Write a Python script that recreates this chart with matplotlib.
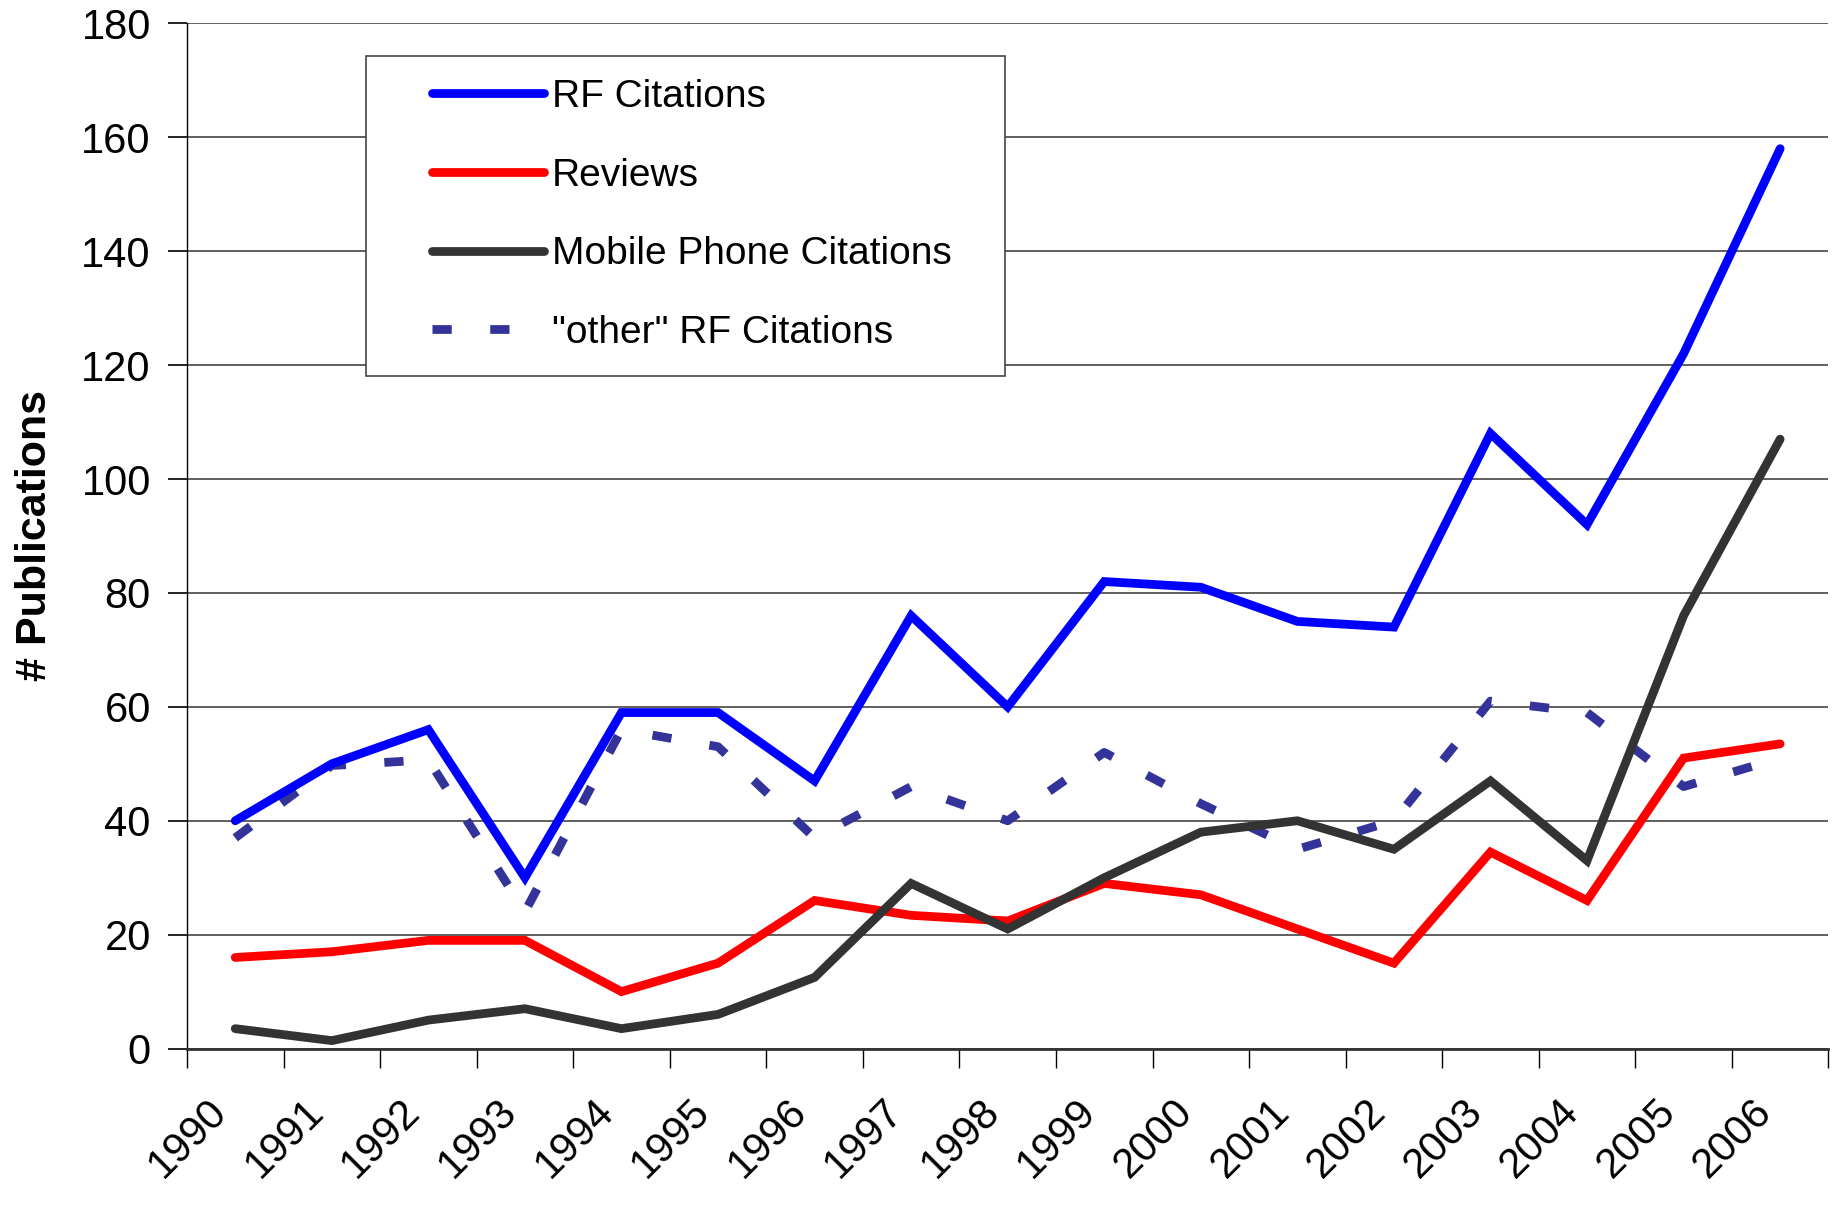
import matplotlib
matplotlib.use("Agg")
import matplotlib.pyplot as plt
from matplotlib.patches import Rectangle
import numpy as np

# ── Data ─────────────────────────────────────────────────────────────────────
years = [1990, 1991, 1992, 1993, 1994, 1995, 1996, 1997, 1998,
         1999, 2000, 2001, 2002, 2003, 2004, 2005, 2006]
rf_citations = [40, 50, 56, 30, 59, 59, 47, 76, 60,
                82, 81, 75, 74, 108, 92, 122, 158]
reviews = [16, 17, 19, 19, 10, 15, 26, 23.4, 22.4,
           29, 27, 21, 15, 34.5, 26, 51, 53.5]
mobile_citations = [3.5, 1.4, 5, 7, 3.5, 6, 12.5, 29, 21,
                    30, 38, 40, 35, 47, 33, 76, 107]
other_rf_citations = [37, 49.7, 50.7, 24, 56, 53, 37, 46, 40,
                      52, 43, 35, 40, 61, 59, 46, 51]

plt.rcParams["font.family"] = ["Liberation Sans", "DejaVu Sans"]

fig = plt.figure(figsize=(18.33, 12.05), dpi=100)
ax = fig.add_axes([0.102, 0.1298, 0.8955, 0.8508])

x = np.arange(len(years)) + 0.5
lw = 6.3
ax.plot(x, rf_citations, color="#0000FF", lw=lw, label="RF Citations",
        solid_capstyle="round", solid_joinstyle="miter", zorder=4)
ax.plot(x, reviews, color="#FF0000", lw=lw, label="Reviews",
        solid_capstyle="round", solid_joinstyle="miter", zorder=3)
ax.plot(x, mobile_citations, color="#333333", lw=lw, label="Mobile Phone Citations",
        solid_capstyle="round", solid_joinstyle="miter", zorder=3)
ax.plot(x, other_rf_citations, color="#333399", lw=lw, label='"other" RF Citations',
        linestyle=(0, (2.2, 4.4)), dash_capstyle="butt", zorder=2)

ax.set_xlim(0, len(years))
ax.set_ylim(0, 180)
ax.set_yticks(np.arange(0, 181, 20))
ax.yaxis.grid(True, color="#444444", lw=1.2)
ax.set_axisbelow(True)

# ticks at category boundaries, labels at category centres
ax.set_xticks(np.arange(len(years) + 1))
ax.set_xticklabels([])
ax.set_xticks(x, minor=True)
ax.set_xticklabels([str(y) for y in years], minor=True, rotation=45,
                   ha="right", fontsize=30)
ax.tick_params(axis="x", which="major", direction="out", length=14, width=1)
ax.tick_params(axis="x", which="minor", length=0, pad=31)
ax.tick_params(axis="y", direction="out", length=14, width=1.2,
               labelsize=30, pad=12)

for side in ["top", "right"]:
    ax.spines[side].set_visible(False)
ax.spines["left"].set_linewidth(1)
ax.spines["bottom"].set_linewidth(2)
ax.spines["bottom"].set_color("#333333")

ax.set_ylabel("# Publications", fontsize=31, fontweight="bold", labelpad=19)

# legend frame drawn separately (wider side padding than top/bottom)
ax.add_patch(Rectangle((0.109, 0.656), 0.3895, 0.312, transform=ax.transAxes,
                       facecolor="white", edgecolor="#444444", lw=1.2,
                       zorder=9))
leg = ax.legend(loc="upper left", bbox_to_anchor=(0.149, 0.946),
                borderaxespad=0, borderpad=0, fontsize=28, frameon=False,
                handlelength=2.9, handletextpad=0.2, labelspacing=1.1)
leg.set_zorder(10)

plt.savefig("out.png", dpi=100)
